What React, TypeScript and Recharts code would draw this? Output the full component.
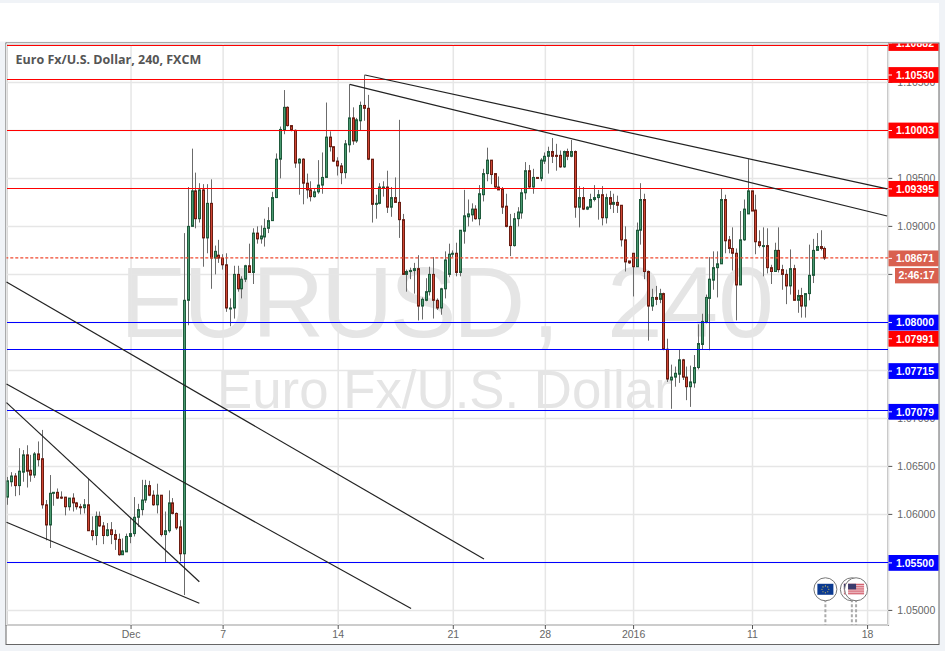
import { Bar, CartesianGrid, ComposedChart, ReferenceDot, ReferenceLine, XAxis, YAxis } from "recharts";

const opens = [
  1.0618,1.0634,1.0640,1.0630,1.0644,1.0662,1.0646,1.0641,1.0663,1.0658,
  1.0610,1.0589,1.0622,1.0623,1.0618,1.0618,1.0608,1.0617,1.0612,1.0608,
  1.0607,1.0610,1.0583,1.0578,1.0598,1.0588,1.0578,1.0584,1.0579,1.0574,
  1.0558,1.0561,1.0577,1.0580,1.0597,1.0605,1.0615,1.0630,1.0620,1.0610,
  1.0620,1.0579,1.0583,1.0612,1.0601,1.0587,1.0559,1.0823,1.0900,1.0937,
  1.0908,1.0938,1.0888,1.0924,1.0867,1.0870,1.0867,1.0860,1.0815,1.0815,
  1.0850,1.0835,1.0845,1.0859,1.0852,1.0893,1.0887,1.0889,1.0898,1.0906,
  1.0930,1.0970,1.1000,1.1024,1.1005,1.1000,1.0966,1.0970,1.0945,1.0938,
  1.0931,1.0936,1.0943,1.0951,1.0993,1.0983,1.0968,1.0963,1.0956,1.0985,
  1.1013,1.0989,1.1010,1.1026,1.1023,1.0970,1.0923,1.0924,1.0941,1.0941,
  1.0920,1.0930,1.0925,1.0907,1.0850,1.0853,1.0854,1.0856,1.0817,1.0823,
  1.0832,1.0850,1.0823,1.0815,1.0835,1.0850,1.0871,1.0872,1.0852,1.0895,
  1.0910,1.0912,1.0918,1.0908,1.0933,1.0955,1.0969,1.0955,1.0941,1.0939,
  1.0921,1.0900,1.0880,1.0908,1.0914,1.0935,1.0958,1.0941,1.0951,1.0950,
  1.0968,1.0973,1.0978,1.0974,1.0974,1.0962,1.0978,1.0973,1.0978,1.0920,
  1.0930,1.0918,1.0920,1.0928,1.0930,1.0933,1.0909,1.0930,1.0923,1.0925,
  1.0922,1.0886,1.0864,1.0872,1.0858,1.0896,1.0928,1.0853,1.0817,1.0826,
  1.0824,1.0830,1.0772,1.0740,1.0743,1.0746,1.0761,1.0743,1.0733,1.0737,
  1.0753,1.0777,1.0800,1.0825,1.0844,1.0857,1.0861,1.0928,1.0886,1.0877,
  1.0872,1.0839,1.0886,1.0913,1.0937,1.0917,1.0884,1.0880,1.0880,1.0857,
  1.0853,1.0875,1.0855,1.0850,1.0838,1.0856,1.0823,1.0828,1.0817,1.0830,
  1.0849,1.0875,1.0879,1.0877,
];
const highs = [
  1.0639,1.0644,1.0643,1.0669,1.0667,1.0672,1.0662,1.0665,1.0676,1.0688,
  1.0615,1.0641,1.0623,1.0627,1.0624,1.0618,1.0617,1.0622,1.0613,1.0611,
  1.0616,1.0637,1.0598,1.0603,1.0603,1.0592,1.0591,1.0592,1.0584,1.0580,
  1.0575,1.0580,1.0597,1.0618,1.0611,1.0636,1.0636,1.0635,1.0625,1.0632,
  1.0620,1.0603,1.0625,1.0617,1.0602,1.0594,1.0893,1.0941,1.0981,1.0956,
  1.0945,1.0944,1.0944,1.0949,1.0880,1.0886,1.0871,1.0872,1.0825,1.0859,
  1.0859,1.0848,1.0860,1.0882,1.0898,1.0900,1.0901,1.0908,1.0920,1.0936,
  1.0976,1.1004,1.1042,1.1025,1.1005,1.1001,1.0971,1.0971,1.0955,1.0947,
  1.0940,1.0969,1.0977,1.1029,1.0999,1.0983,1.0972,1.0966,1.0990,1.1048,
  1.1024,1.1013,1.1030,1.1058,1.1037,1.0970,1.0933,1.0945,1.0947,1.0958,
  1.0941,1.0951,1.1011,1.0913,1.0855,1.0857,1.0862,1.0870,1.0826,1.0846,
  1.0858,1.0868,1.0825,1.0836,1.0874,1.0882,1.0875,1.0883,1.0896,1.0938,
  1.0928,1.0924,1.0922,1.0943,1.0960,1.0982,1.0969,1.0955,1.0952,1.0941,
  1.0934,1.0913,1.0914,1.0920,1.0940,1.0967,1.0964,1.0960,1.0951,1.0971,
  1.0977,1.0983,1.0992,1.0986,1.0979,1.0979,1.0981,1.0990,1.0979,1.0942,
  1.0941,1.0921,1.0934,1.0943,1.0938,1.0942,1.0934,1.0937,1.0934,1.0932,
  1.0922,1.0900,1.0864,1.0872,1.0904,1.0945,1.0934,1.0854,1.0835,1.0838,
  1.0835,1.0831,1.0783,1.0756,1.0754,1.0772,1.0762,1.0754,1.0755,1.0766,
  1.0798,1.0809,1.0829,1.0868,1.0874,1.0874,1.0939,1.0933,1.0890,1.0899,
  1.0877,1.0916,1.0928,1.0970,1.0937,1.0933,1.0896,1.0899,1.0898,1.0860,
  1.0883,1.0899,1.0860,1.0855,1.0876,1.0860,1.0834,1.0836,1.0830,1.0881,
  1.0887,1.0893,1.0896,1.0879,
];
const lows = [
  1.0610,1.0629,1.0619,1.0620,1.0634,1.0628,1.0634,1.0638,1.0650,1.0606,
  1.0573,1.0565,1.0609,1.0616,1.0616,1.0599,1.0604,1.0603,1.0605,1.0600,
  1.0601,1.0583,1.0573,1.0568,1.0587,1.0569,1.0577,1.0569,1.0563,1.0557,
  1.0558,1.0561,1.0570,1.0577,1.0587,1.0599,1.0612,1.0619,1.0609,1.0601,
  1.0577,1.0550,1.0581,1.0600,1.0584,1.0551,1.0516,1.0797,1.0900,1.0898,
  1.0904,1.0858,1.0872,1.0835,1.0850,1.0862,1.0855,1.0811,1.0796,1.0804,
  1.0832,1.0825,1.0842,1.0852,1.0840,1.0882,1.0882,1.0879,1.0893,1.0915,
  1.0930,1.0950,1.0996,1.1004,1.0999,1.0961,1.0933,1.0923,1.0929,1.0926,
  1.0930,1.0934,1.0934,1.0951,1.0978,1.0967,1.0953,1.0944,1.0950,1.0977,
  1.0985,1.0987,1.1000,1.1010,1.0969,1.0904,1.0908,1.0923,1.0931,1.0914,
  1.0910,1.0925,1.0888,1.0850,1.0832,1.0845,1.0830,1.0802,1.0803,1.0822,
  1.0828,1.0804,1.0813,1.0808,1.0825,1.0847,1.0868,1.0848,1.0848,1.0882,
  1.0900,1.0905,1.0907,1.0901,1.0926,1.0947,1.0944,1.0940,1.0938,1.0913,
  1.0899,1.0869,1.0879,1.0900,1.0908,1.0928,1.0939,1.0934,1.0950,1.0947,
  1.0965,1.0955,1.0966,1.0958,1.0961,1.0961,1.0969,1.0972,1.0909,1.0899,
  1.0917,1.0917,1.0919,1.0926,1.0907,1.0901,1.0903,1.0918,1.0914,1.0914,
  1.0879,1.0853,1.0861,1.0827,1.0858,1.0881,1.0845,1.0781,1.0812,1.0818,
  1.0820,1.0771,1.0738,1.0710,1.0733,1.0737,1.0740,1.0719,1.0712,1.0732,
  1.0751,1.0772,1.0799,1.0771,1.0834,1.0826,1.0861,1.0872,1.0872,1.0854,
  1.0802,1.0839,1.0885,1.0913,1.0916,1.0871,1.0878,1.0848,1.0851,1.0840,
  1.0853,1.0852,1.0834,1.0819,1.0829,1.0823,1.0810,1.0805,1.0805,1.0823,
  1.0841,1.0875,1.0875,1.0865,
];
const closes = [
  1.0635,1.0640,1.0630,1.0645,1.0662,1.0645,1.0641,1.0663,1.0657,1.0610,
  1.0589,1.0622,1.0623,1.0617,1.0617,1.0608,1.0617,1.0612,1.0608,1.0607,
  1.0610,1.0583,1.0578,1.0598,1.0588,1.0578,1.0584,1.0579,1.0574,1.0558,
  1.0562,1.0577,1.0580,1.0597,1.0605,1.0615,1.0630,1.0620,1.0610,1.0620,
  1.0579,1.0583,1.0612,1.0601,1.0586,1.0559,1.0823,1.0900,1.0937,1.0908,
  1.0938,1.0888,1.0924,1.0867,1.0874,1.0867,1.0860,1.0815,1.0815,1.0850,
  1.0835,1.0845,1.0859,1.0852,1.0893,1.0887,1.0890,1.0898,1.0906,1.0930,
  1.0970,1.1001,1.1024,1.1005,1.1000,1.0966,1.0970,1.0945,1.0938,1.0931,
  1.0936,1.0943,1.0951,1.0993,1.0983,1.0968,1.0963,1.0956,1.0986,1.1013,
  1.0989,1.1011,1.1026,1.1023,1.0970,1.0923,1.0924,1.0941,1.0941,1.0920,
  1.0930,1.0925,1.0907,1.0850,1.0853,1.0854,1.0856,1.0817,1.0824,1.0832,
  1.0850,1.0823,1.0815,1.0835,1.0865,1.0871,1.0872,1.0852,1.0896,1.0911,
  1.0913,1.0918,1.0908,1.0934,1.0955,1.0969,1.0954,1.0941,1.0938,1.0920,
  1.0900,1.0880,1.0908,1.0915,1.0935,1.0958,1.0941,1.0951,1.0950,1.0969,
  1.0973,1.0978,1.0973,1.0973,1.0962,1.0978,1.0973,1.0978,1.0920,1.0930,
  1.0918,1.0920,1.0928,1.0930,1.0933,1.0909,1.0930,1.0923,1.0925,1.0922,
  1.0886,1.0863,1.0862,1.0858,1.0896,1.0928,1.0853,1.0817,1.0826,1.0824,
  1.0830,1.0772,1.0741,1.0743,1.0747,1.0761,1.0743,1.0733,1.0738,1.0753,
  1.0778,1.0801,1.0826,1.0845,1.0857,1.0861,1.0928,1.0885,1.0877,1.0872,
  1.0839,1.0886,1.0918,1.0937,1.0916,1.0884,1.0880,1.0880,1.0857,1.0853,
  1.0875,1.0855,1.0850,1.0838,1.0856,1.0823,1.0828,1.0817,1.0830,1.0849,
  1.0875,1.0879,1.0877,1.0867,
];

const weekTicks = [32, 56, 86, 116, 140, 163, 194, 224];
const weekLabels = ["Dec", "7", "14", "21", "28", "2016", "11", "18"];
const priceTicks = [1.05, 1.055, 1.06, 1.065, 1.07, 1.075, 1.08, 1.085, 1.09, 1.095, 1.1, 1.105];

const levelPrices = [1.10882, 1.1053, 1.10003, 1.09395, 1.07991, 1.08, 1.07715, 1.07079, 1.055];
const levelColors = ["#ff0000", "#ff0000", "#ff0000", "#ff0000", "#ff0000", "#0000ff", "#0000ff", "#0000ff", "#0000ff"];
// the 1.07991 line sits under the 1.08 one, only its tag shows
const levelLineColors = ["#ff0000", "#ff0000", "#ff0000", "#ff0000", "none", "#0000ff", "#0000ff", "#0000ff", "#0000ff"];
// tags get pushed away from their line when they would overlap
const levelTagShift = [-2.7, -4.5, 0.4, 0.4, 15.5, 0.2, 21.3, 1, 0.5];

const lastPrice = 1.08671;
const countdown = "2:46:17";

// [bar, price, bar, price]
const trendLines = [
  [89, 1.1048, 229.1, 1.09108],
  [93, 1.10577, 229.1, 1.0939],
  [-0.47, 1.08421, 124, 1.05535],
  [-0.47, 1.07358, 105, 1.0502],
  [-0.47, 1.07164, 49.8, 1.05299],
  [-0.47, 1.05918, 49.8, 1.05074],
];

const eventBars = [213, 219.9, 221];
const eventFlags = ["eu", "us", "us"];
const eventPrice = 1.0522;

const X_MIN = -0.47;
const X_MAX = 229.4;
const Y_MIN = 1.04848;
const Y_MAX = 1.10905;

const candles = opens.map((open, i) => ({
  i,
  open,
  close: closes[i],
  range: [lows[i], highs[i]],
}));

const AXIS_FONT = "'Liberation Sans', Arial, sans-serif";

function Candle(props: any) {
  const { x, y, width, height, payload } = props;
  const [low, high] = payload.range;
  const perUnit = height / (high - low);
  const yOf = (p: number) => y + (high - p) * perUnit;
  const c = Math.floor(x + width / 2) + 0.5;
  const up = payload.close >= payload.open;
  const top = yOf(Math.max(payload.open, payload.close));
  const bottom = yOf(Math.min(payload.open, payload.close));
  return (
    <g>
      <line x1={c} x2={c} y1={y} y2={y + height} stroke="#6b6b6b" strokeWidth={1} />
      <rect
        x={c - 1}
        y={top}
        width={2}
        height={Math.max(bottom - top, 1)}
        fill={up ? "#4a9a70" : "#cf4534"}
        stroke={up ? "#1f5a3c" : "#6a1d12"}
        strokeWidth={1}
      />
    </g>
  );
}

function PriceTag({ y, text, fill, shift }: { y: number; text: string; fill: string; shift: number }) {
  const cy = y + shift;
  return (
    <g clipPath="url(#tagClip)">
      <rect x={888.5} y={cy - 7.9} width={50} height={15.8} fill={fill} />
      <line x1={888.5} x2={892} y1={cy} y2={cy} stroke="#ffffff" strokeWidth={1} />
      <text x={915} y={cy + 3.8} textAnchor="middle" fontFamily={AXIS_FONT} fontSize={10.5} fontWeight="bold" fill="#ffffff">
        {text}
      </text>
    </g>
  );
}

function Flag(props: any) {
  const { cx, cy, kind } = props;
  const stripes = [0, 1, 2, 3, 4, 5];
  const stars = [0, 1, 2, 3, 4, 5, 6, 7];
  return (
    <g>
      <circle cx={cx} cy={cy} r={11.5} fill="#ffffff" stroke="#777777" strokeWidth={1} />
      {kind === "eu" ? (
        <g>
          <rect x={cx - 8} y={cy - 5.5} width={16} height={11} fill="#0b3a91" />
          {stars.map((s) => (
            <circle
              key={s}
              cx={cx + 3.4 * Math.cos((s * Math.PI) / 4)}
              cy={cy + 3.4 * Math.sin((s * Math.PI) / 4)}
              r={0.55}
              fill="#ffd84a"
            />
          ))}
        </g>
      ) : (
        <g>
          <rect x={cx - 8} y={cy - 5.5} width={16} height={11} fill="#ffffff" />
          {stripes.map((s) => (
            <rect key={s} x={cx - 8} y={cy - 5.5 + s * 1.9} width={16} height={1} fill="#c8384a" />
          ))}
          <rect x={cx - 8} y={cy - 5.5} width={8} height={5.6} fill="#3b3b6d" />
        </g>
      )}
    </g>
  );
}

export default function App() {
  return (
    <div style={{ position: "absolute", left: 0, top: 0, width: 945, height: 651, overflow: "hidden", background: "#f0f3f7" }}>
      <svg width={945} height={651} style={{ position: "absolute", left: 0, top: 0 }}>
        <defs>
          <clipPath id="tagClip">
            <rect x={885} y={43.5} width={60} height={600} />
          </clipPath>
        </defs>
        <rect x={0} y={3} width={939} height={38.5} fill="#ffffff" />
        <rect x={6} y={43} width={933} height={601.5} fill="#ffffff" stroke="#666666" strokeWidth={1} />
        <rect x={6.5} y={43.5} width={881.8} height={581.5} fill="#ffffff" stroke="#555555" strokeWidth={1.5} />
        <text y={337} fontFamily={AXIS_FONT} fontSize={100} fill="#e5e5e5">
          <tspan x={120} letterSpacing={-3.4}>EURUSD</tspan>
          <tspan x={532}>, </tspan>
          <tspan x={607}>240</tspan>
        </text>
        <text x={217} y={408} fontFamily={AXIS_FONT} fontSize={52.8} fill="#e5e5e5">
          Euro Fx/U.S. Dollar
        </text>
      </svg>
      <div style={{ position: "absolute", left: 0, top: 0 }}>
        <ComposedChart
          width={945}
          height={651}
          data={candles}
          margin={{ top: 43.5, right: 0, bottom: 0, left: 6.5 }}
          barSize={3}
        >
          <CartesianGrid stroke="#e6e6e6" strokeWidth={1.5} />
          <XAxis
            dataKey="i"
            type="number"
            domain={[X_MIN, X_MAX]}
            allowDataOverflow
            ticks={weekTicks}
            interval={0}
            height={26}
            axisLine={false}
            tickSize={4}
            tickLine={{ stroke: "#555555" }}
            tick={{ fill: "#666666", fontSize: 10.5, fontFamily: AXIS_FONT }}
            tickFormatter={(v) => weekLabels[weekTicks.indexOf(v)]}
          />
          <YAxis
            orientation="right"
            width={56.7}
            domain={[Y_MIN, Y_MAX]}
            allowDataOverflow
            ticks={priceTicks}
            interval={0}
            axisLine={false}
            tickSize={4}
            tickMargin={5}
            tickLine={{ stroke: "#555555" }}
            tick={{ fill: "#666666", fontSize: 10.5, fontFamily: AXIS_FONT }}
            tickFormatter={(v) => v.toFixed(5)}
          />
          {levelPrices.map((p, k) => (
            <ReferenceLine key={p} y={p} stroke={levelLineColors[k]} strokeWidth={1} shapeRendering="crispEdges" />
          ))}
          <ReferenceLine y={lastPrice} stroke="#f0492f" strokeWidth={1.2} strokeDasharray="3 2" />
          {trendLines.map((t, k) => (
            <ReferenceLine
              key={k}
              segment={[
                { x: t[0], y: t[1] },
                { x: t[2], y: t[3] },
              ]}
              stroke="#222222"
              strokeWidth={1.2}
            />
          ))}
          {eventBars.map((b) => (
            <ReferenceLine
              key={b}
              segment={[
                { x: b, y: eventPrice },
                { x: b, y: Y_MIN },
              ]}
              stroke="#aaaaaa"
              strokeWidth={2}
              strokeDasharray="3 2"
            />
          ))}
          {eventBars.map((b, k) => (
            <ReferenceDot
              key={b}
              x={b}
              y={eventPrice}
              r={11.5}
              shape={(dp: any) => <Flag cx={dp.cx} cy={dp.cy} kind={eventFlags[k]} />}
            />
          ))}
          <Bar dataKey="range" shape={Candle} isAnimationActive={false} />
        </ComposedChart>
      </div>
      {/* second chart on top with the same scales: the price tags have to cover the axis labels */}
      <div style={{ position: "absolute", left: 0, top: 0 }}>
        <ComposedChart
          width={945}
          height={651}
          data={candles}
          margin={{ top: 43.5, right: 56.7, bottom: 26, left: 6.5 }}
        >
          <XAxis dataKey="i" type="number" domain={[X_MIN, X_MAX]} allowDataOverflow hide />
          <YAxis domain={[Y_MIN, Y_MAX]} allowDataOverflow hide />
          {levelPrices.map((p, k) => (
            <ReferenceLine
              key={p}
              y={p}
              stroke="none"
              label={(lp: any) => (
                <PriceTag y={lp.viewBox.y} text={p.toFixed(5)} fill={levelColors[k]} shift={levelTagShift[k]} />
              )}
            />
          ))}
          <ReferenceLine
            y={lastPrice}
            stroke="none"
            label={(lp: any) => (
              <g>
                <PriceTag y={lp.viewBox.y} text={lastPrice.toFixed(5)} fill="#d9604f" shift={0.4} />
                <rect x={895} y={lp.viewBox.y + 10} width={43.5} height={15.4} fill="#d9604f" />
                <text x={916.5} y={lp.viewBox.y + 21.5} textAnchor="middle" fontFamily={AXIS_FONT} fontSize={10.5} fontWeight="bold" fill="#ffffff">
                  {countdown}
                </text>
              </g>
            )}
          />
        </ComposedChart>
      </div>
      <div
        style={{
          position: "absolute",
          left: 15.5,
          top: 51,
          fontFamily: "'Open Sans', sans-serif",
          fontWeight: 700,
          fontSize: 12.5,
          lineHeight: "18px",
          color: "#555555",
          whiteSpace: "nowrap",
        }}
      >
        Euro Fx/U.S. Dollar, 240, FXCM
      </div>
    </div>
  );
}
